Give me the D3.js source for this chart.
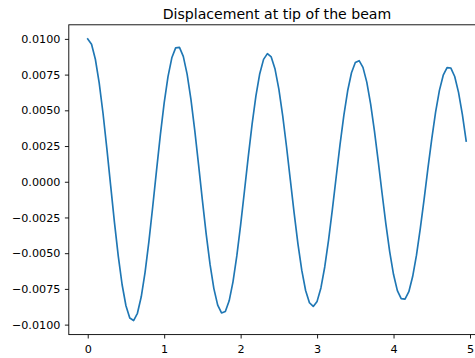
<!DOCTYPE html>
<html>
<head>
<meta charset="utf-8">
<script src="https://cdn.jsdelivr.net/npm/d3@7"></script>
<style>
  html, body { margin: 0; padding: 0; background: #ffffff; }
  svg { display: block; }
  text { font-family: "DejaVu Sans", sans-serif; fill: #000; }
</style>
</head>
<body>
<svg id="chart" width="475" height="358"></svg>
<script>
const chartTitle = "Displacement at tip of the beam";

const time = [
  0.00, 0.05, 0.10, 0.15, 0.20, 0.25, 0.30, 0.35, 0.40, 0.45,
  0.50, 0.55, 0.60, 0.65, 0.70, 0.75, 0.80, 0.85, 0.90, 0.95,
  1.00, 1.05, 1.10, 1.15, 1.20, 1.25, 1.30, 1.35, 1.40, 1.45,
  1.50, 1.55, 1.60, 1.65, 1.70, 1.75, 1.80, 1.85, 1.90, 1.95,
  2.00, 2.05, 2.10, 2.15, 2.20, 2.25, 2.30, 2.35, 2.40, 2.45,
  2.50, 2.55, 2.60, 2.65, 2.70, 2.75, 2.80, 2.85, 2.90, 2.95,
  3.00, 3.05, 3.10, 3.15, 3.20, 3.25, 3.30, 3.35, 3.40, 3.45,
  3.50, 3.55, 3.60, 3.65, 3.70, 3.75, 3.80, 3.85, 3.90, 3.95,
  4.00, 4.05, 4.10, 4.15, 4.20, 4.25, 4.30, 4.35, 4.40, 4.45,
  4.50, 4.55, 4.60, 4.65, 4.70, 4.75, 4.80, 4.85, 4.90, 4.95
];

const displacement = [
  0.010000, 0.009625, 0.008574, 0.006924, 0.004794, 0.002336, -0.000275, -0.002855, -0.005222, -0.007210,
  -0.008681, -0.009535, -0.009713, -0.009206, -0.008053, -0.006339, -0.004185, -0.001748, 0.000802, 0.003284,
  0.005523, 0.007363, 0.008675, 0.009371, 0.009404, 0.008775, 0.007530, 0.005761, 0.003594, 0.001184,
  -0.001298, -0.003677, -0.005787, -0.007479, -0.008637, -0.009181, -0.009077, -0.008333, -0.007007, -0.005192,
  -0.003021, -0.000647, 0.001762, 0.004036, 0.006015, 0.007561, 0.008568, 0.008967, 0.008733, 0.007884,
  0.006485, 0.004635, 0.002467, 0.000136, -0.002195, -0.004360, -0.006208, -0.007611, -0.008471, -0.008730,
  -0.008374, -0.007430, -0.005966, -0.004090, -0.001934, 0.000349, 0.002596, 0.004650, 0.006367, 0.007629,
  0.008347, 0.008474, 0.008003, 0.006972, 0.005454, 0.003559, 0.001422, -0.000805, -0.002966, -0.004907,
  -0.006494, -0.007617, -0.008179, -0.008217, -0.007698, -0.006635, -0.005142, -0.003269, -0.001215, 0.000952,
  0.003005, 0.004877, 0.006397, 0.007459, 0.007992, 0.007959, 0.007366, 0.006256, 0.004712, 0.002843
];

const xTicks = [0, 1, 2, 3, 4, 5];
const xTickLabels = ["0", "1", "2", "3", "4", "5"];
const yTicks = [-0.01, -0.0075, -0.005, -0.0025, 0, 0.0025, 0.005, 0.0075, 0.01];
const yTickLabels = ["\u22120.0100", "\u22120.0075", "\u22120.0050", "\u22120.0025", "0.0000",
                     "0.0025", "0.0050", "0.0075", "0.0100"];

const data = time.map((t, i) => ({ t: t, d: displacement[i] }));

const svg = d3.select("#chart");
const mLeft = 68.8, mRight = 485.1, mTop = 24.8, mBottom = 334.6;

const xExt = d3.extent(time);
const xPad = (xExt[1] - xExt[0]) * 0.05;
const x = d3.scaleLinear().domain([xExt[0] - xPad, xExt[1] + xPad]).range([mLeft, mRight]);

const yExt = d3.extent(displacement);
const yPad = (yExt[1] - yExt[0]) * 0.05;
const y = d3.scaleLinear().domain([yExt[0] - yPad, yExt[1] + yPad]).range([mBottom, mTop]);

// line
svg.append("path")
  .datum(data)
  .attr("fill", "none")
  .attr("stroke", "#1f77b4")
  .attr("stroke-width", 1.67)
  .attr("stroke-linejoin", "round")
  .attr("stroke-linecap", "square")
  .attr("d", d3.line().x(d => x(d.t)).y(d => y(d.d)));

// axes
const xAxis = d3.axisBottom(x)
  .tickValues(xTicks)
  .tickFormat((d, i) => xTickLabels[i])
  .tickSize(3.9)
  .tickPadding(6.5);
const gx = svg.append("g").attr("transform", `translate(0,${mBottom})`).call(xAxis);

const yAxis = d3.axisLeft(y)
  .tickValues(yTicks)
  .tickFormat((d, i) => yTickLabels[i])
  .tickSize(3.9)
  .tickPadding(4.5);
const gy = svg.append("g").attr("transform", `translate(${mLeft},0)`).call(yAxis);

[gx, gy].forEach(g => {
  g.select(".domain").remove();
  g.selectAll(".tick line").attr("stroke", "#000").attr("stroke-width", 0.9);
  g.selectAll(".tick text")
    .attr("fill", "#000")
    .style("font-family", "'DejaVu Sans', sans-serif")
    .style("font-size", "11.2px");
});

// spines
svg.append("rect")
  .attr("x", mLeft).attr("y", mTop)
  .attr("width", mRight - mLeft).attr("height", mBottom - mTop)
  .attr("fill", "none").attr("stroke", "#000").attr("stroke-width", 0.9);

// title
svg.append("text")
  .attr("x", (mLeft + mRight) / 2)
  .attr("y", 18.6)
  .attr("text-anchor", "middle")
  .style("font-size", "14.1px")
  .text(chartTitle);
</script>
</body>
</html>
